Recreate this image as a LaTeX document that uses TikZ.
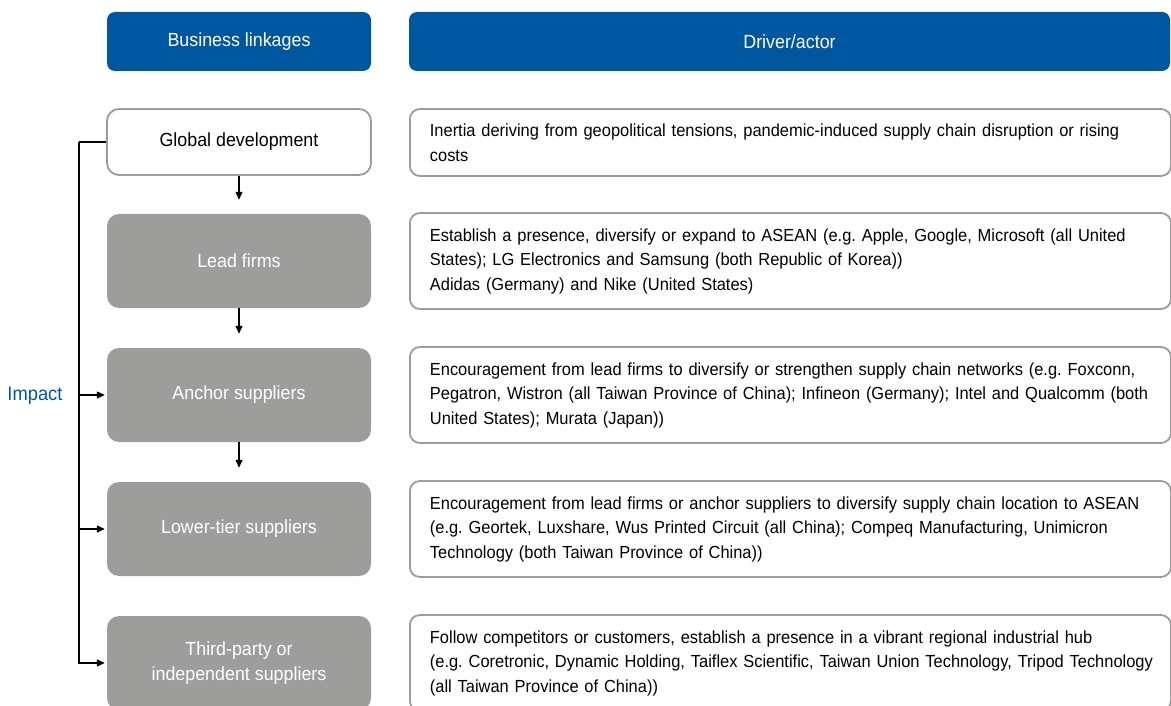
\documentclass[tikz,border=0pt]{standalone}
\usepackage{fontspec}
\setmainfont{Liberation Sans}[FakeStretch=0.94]
\usepackage{tikz}
\usetikzlibrary{arrows.meta,positioning}
\definecolor{hdrblue}{HTML}{00569F}
\definecolor{boxgray}{HTML}{9D9D9C}
\definecolor{linegray}{HTML}{9C9C9C}
\frenchspacing

\begin{document}
\begin{tikzpicture}[x=1pt,y=-1pt,
  hdr/.style={fill=hdrblue,rounded corners=8pt,minimum height=59pt,text=white,font=\fontsize{19}{20}\selectfont},
  link/.style={fill=boxgray,rounded corners=12pt,minimum width=264pt,minimum height=94pt,text=white,align=center,font=\fontsize{19}{25}\selectfont},
  drv/.style={draw=linegray,line width=1.8pt,rounded corners=10pt,minimum width=761pt,text width=721pt,inner xsep=20pt,align=left,anchor=west,font=\fontsize{17.5}{24.5}\selectfont},
  arr/.style={-{Triangle[length=8pt,width=7pt]},line width=1.2pt}]
\useasboundingbox (0,0) rectangle (1171,706);
\clip (0,0) rectangle (1171,706);
% headers
\node[hdr,minimum width=264pt] (hbl) at (239,41.5) {Business linkages};
\node[hdr,minimum width=761pt] (hda) at (789.5,41.5) {Driver/actor};
% business linkages
\node[link,fill=white,draw=linegray,line width=1.8pt,minimum height=66pt,text=black] (gd) at (239,142) {Global development};
\node[link] (lead) at (239,261) {Lead firms};
\node[link] (anc) at (239,395) {Anchor suppliers};
\node[link] (low) at (239,529) {Lower-tier suppliers};
\node[link] (tp) at (239,663) {Third-party or\\independent suppliers};
% drivers
\node[drv,minimum height=67pt] (dgd) at (409,142.5) {Inertia deriving from geopolitical tensions, pandemic-induced supply chain disruption or rising\\costs};
\node[drv,minimum height=96pt] (dlead) at (409,261) {Establish a presence, diversify or expand to ASEAN (e.g. Apple, Google, Microsoft (all United\\States); LG Electronics and Samsung (both Republic of Korea))\\Adidas (Germany) and Nike (United States)};
\node[drv,minimum height=96pt] (danc) at (409,395) {Encouragement from lead firms to diversify or strengthen supply chain networks (e.g. Foxconn,\\Pegatron, Wistron (all Taiwan Province of China); Infineon (Germany); Intel and Qualcomm (both\\United States); Murata (Japan))};
\node[drv,minimum height=96pt] (dlow) at (409,529) {Encouragement from lead firms or anchor suppliers to diversify supply chain location to ASEAN\\(e.g. Geortek, Luxshare, Wus Printed Circuit (all China); Compeq Manufacturing, Unimicron\\Technology (both Taiwan Province of China))};
\node[drv,minimum height=96pt] (dtp) at (409,663) {Follow competitors or customers, establish a presence in a vibrant regional industrial hub\\\mbox{(e.g. Coretronic, Dynamic Holding, Taiflex Scientific, Taiwan Union Technology, Tripod Technology}\\(all Taiwan Province of China))};
% impact bracket
\node[text=hdrblue,font=\fontsize{19.5}{20}\selectfont,anchor=east] (imp) at (66,396) {Impact};
\coordinate (bk) at (79,142);
\draw[line width=1.2pt] (gd.west) -- (bk);
\draw[arr,shorten >=2pt] (bk) |- (tp.west);
\draw[arr,shorten >=2pt] (bk |- anc.west) -- (anc.west);
\draw[arr,shorten >=2pt] (bk |- low.west) -- (low.west);
% chain
\draw[arr,shorten >=14pt] (gd.south) -- (lead.north);
\draw[arr,shorten >=14pt] (lead.south) -- (anc.north);
\draw[arr,shorten >=14pt] (anc.south) -- (low.north);
\end{tikzpicture}
\end{document}
